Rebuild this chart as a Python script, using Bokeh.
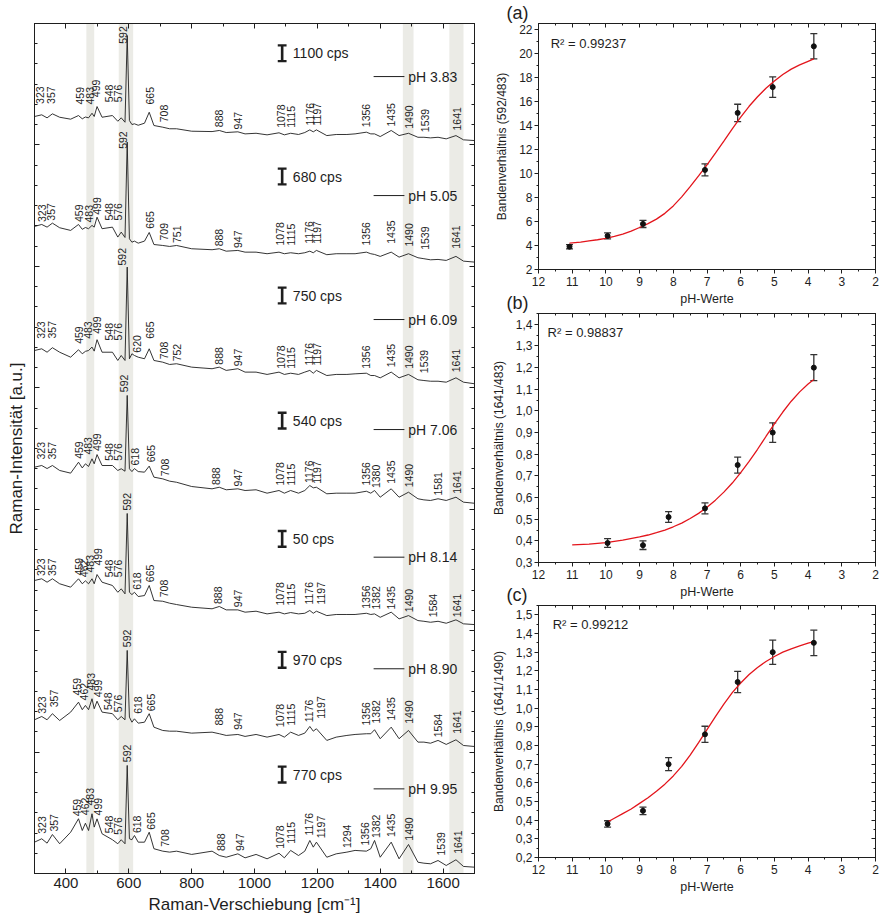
import numpy as np
from math import pi
from bokeh.plotting import figure
from bokeh.models import (Range1d, FixedTicker, LinearAxis, BoxAnnotation, Label,
                          Whisker, TeeHead, ColumnDataSource, CustomJSTickFormatter)
from bokeh.layouts import row, column
from bokeh.embed import file_html
from bokeh.resources import INLINE
from bokeh.core.properties import value

FONT = "Liberation Sans"
INK = "#1e1e1e"

# ---------------- Raman spectra (left panel) ----------------
WN = [300, 323, 340, 357, 380, 415, 440, 452, 462, 472, 483, 490, 499, 515, 548, 565, 576,
      588, 595, 602, 610, 618, 630, 650, 665, 680, 708, 730, 752, 800, 865, 888, 910, 947,
      970, 1005, 1040, 1078, 1095, 1115, 1140, 1160, 1176, 1187, 1197, 1230, 1260, 1294,
      1320, 1356, 1370, 1382, 1400, 1435, 1460, 1490, 1520, 1539, 1560, 1584, 1610, 1641,
      1665, 1700]

PH_NAMES = ["pH 3.83", "pH 5.05", "pH 6.09", "pH 7.06", "pH 8.14", "pH 8.90", "pH 9.95"]
CPS_NAMES = ["1100 cps", "680 cps", "750 cps", "540 cps", "50 cps", "970 cps", "770 cps"]

SPEC_383 = [23.4, 24.8, 22.3, 25.6, 22.8, 21.2, 24.2, 21.5, 23.0, 22.3,
            26.1, 23.4, 31.6, 22.8, 24.2, 19.5, 22.3, 18.7, 90.1, 20.1,
            16.8, 17.4, 16.2, 17.9, 26.9, 16.0, 14.6, 13.3, 13.3, 11.3,
            11.0, 11.9, 10.2, 10.8, 9.1, 9.6, 8.3, 10.0, 8.3, 9.6,
            8.6, 10.2, 12.4, 10.8, 12.4, 7.7, 8.6, 8.6, 9.1, 10.5,
            9.1, 9.1, 6.9, 11.9, 7.7, 9.6, 6.3, 6.3, 5.8, 6.3,
            5.0, 7.7, 4.2, 3.6]
SPEC_505 = [32.9, 34.5, 32.3, 35.6, 31.8, 29.6, 34.5, 30.5, 32.0, 31.0,
            33.7, 32.3, 40.5, 31.0, 32.3, 24.1, 28.2, 23.8, 102.3, 22.7,
            19.9, 20.8, 19.1, 20.8, 27.9, 18.0, 17.2, 16.4, 17.2, 14.5,
            13.7, 14.5, 12.5, 13.1, 11.7, 11.7, 10.4, 11.7, 10.4, 11.2,
            10.4, 11.2, 12.5, 11.2, 13.1, 9.6, 10.4, 10.4, 10.4, 11.7,
            10.4, 9.8, 8.2, 11.7, 7.6, 10.4, 7.1, 6.3, 5.4, 5.7,
            4.9, 8.2, 4.3, 3.5]
SPEC_609 = [30.7, 32.1, 29.3, 33.0, 29.3, 25.2, 31.3, 28.0, 30.0, 30.7,
            33.5, 30.2, 39.6, 29.3, 29.3, 22.5, 26.6, 22.5, 99.4, 23.9,
            28.0, 26.6, 25.2, 23.9, 32.1, 22.5, 21.1, 19.2, 19.8, 17.0,
            15.7, 17.0, 14.3, 15.7, 12.9, 12.9, 11.0, 12.9, 11.0, 12.0,
            11.0, 12.9, 14.3, 12.0, 14.3, 10.1, 11.0, 11.0, 11.5, 12.0,
            10.1, 10.1, 8.2, 12.9, 8.2, 11.0, 6.6, 6.0, 5.4, 5.4,
            4.6, 8.2, 4.6, 3.3]
SPEC_706 = [34.6, 36.0, 33.5, 36.0, 31.9, 29.7, 38.7, 34.0, 37.4, 35.2,
            41.5, 37.4, 45.0, 36.0, 36.0, 31.9, 33.3, 31.3, 93.7, 33.3,
            31.0, 33.5, 31.0, 30.5, 35.5, 26.4, 25.0, 23.1, 22.2, 18.7,
            16.8, 18.1, 16.0, 16.8, 15.4, 16.0, 13.2, 15.4, 13.2, 15.4,
            13.2, 15.4, 19.5, 17.6, 18.1, 12.7, 13.2, 13.2, 13.2, 14.8,
            13.2, 15.4, 9.9, 16.8, 9.9, 14.0, 8.6, 7.7, 7.2, 8.6,
            7.2, 9.9, 5.8, 4.9]
SPEC_814 = [41.3, 42.7, 39.9, 42.7, 38.6, 35.8, 42.7, 38.6, 41.0, 38.6,
            42.7, 38.6, 46.2, 39.9, 37.2, 31.6, 34.4, 30.3, 96.5, 31.6,
            29.7, 31.6, 28.1, 28.9, 37.2, 24.8, 24.2, 22.6, 21.5, 19.3,
            18.0, 19.9, 17.1, 17.1, 15.2, 16.0, 13.8, 15.2, 13.8, 14.9,
            13.8, 14.3, 16.6, 14.3, 16.0, 12.4, 13.3, 13.3, 13.3, 14.3,
            13.3, 13.8, 11.0, 15.2, 9.7, 12.4, 8.3, 7.7, 6.9, 7.7,
            6.1, 8.9, 5.6, 5.0]
SPEC_890 = [26.6, 29.3, 26.6, 31.6, 26.0, 32.9, 41.1, 34.9, 38.4, 34.9,
            43.9, 35.7, 41.9, 32.9, 31.6, 26.6, 29.3, 26.6, 83.7, 28.8,
            24.6, 27.4, 23.8, 24.6, 31.6, 20.5, 17.8, 17.2, 17.2, 15.6,
            16.4, 15.1, 13.7, 14.5, 12.9, 14.5, 12.3, 14.5, 12.3, 16.4,
            13.7, 15.6, 21.1, 17.2, 19.2, 9.6, 12.3, 13.7, 14.5, 15.1,
            15.1, 18.4, 11.0, 20.5, 11.0, 17.8, 8.2, 8.2, 7.3, 9.6,
            6.3, 10.1, 5.4, 4.6]
SPEC_995 = [25.8, 28.6, 25.0, 32.1, 24.5, 34.0, 45.1, 35.4, 41.4, 35.4,
            49.2, 38.2, 45.0, 32.7, 27.8, 24.5, 27.8, 24.5, 89.0, 28.6,
            27.8, 31.3, 25.8, 25.8, 34.0, 20.4, 18.4, 17.6, 18.4, 15.7,
            18.4, 14.8, 13.4, 16.2, 12.9, 15.7, 12.1, 16.7, 12.9, 19.0,
            14.8, 18.4, 27.2, 21.7, 25.8, 13.4, 16.2, 17.6, 19.0, 18.4,
            20.4, 27.2, 13.4, 25.8, 12.1, 23.9, 9.3, 8.5, 8.0, 10.7,
            6.6, 11.3, 5.8, 5.2]
SPECTRA = [SPEC_383, SPEC_505, SPEC_609, SPEC_706, SPEC_814, SPEC_890, SPEC_995]

# peak labels: (text, wavenumber position, height)
PK_383 = [("323", 317, 633.8), ("357", 353, 633.8), ("459", 444, 633.3), ("483", 478, 633.3),
          ("499", 497, 639.3), ("548", 536, 635.2), ("576", 565, 635.2), ("592", 582, 683.3),
          ("665", 669, 633.3), ("708", 711, 618.7), ("888", 886, 614.6), ("947", 947, 611.9),
          ("1078", 1083, 614.1), ("1115", 1117, 614.1), ("1176", 1176, 616.0), ("1197", 1200, 616.0),
          ("1356", 1355, 614.6), ("1435", 1435, 615.2), ("1490", 1491, 613.3), ("1539", 1541, 610.5),
          ("1641", 1643, 611.9)]
PK_505 = [("323", 324, 536.3), ("357", 353, 536.1), ("459", 443, 533.6), ("483", 473, 536.1),
          ("499", 499, 540.5), ("548", 536, 537.7), ("576", 565, 537.7), ("592", 582, 596.8),
          ("665", 669, 531.0), ("709", 711, 521.3), ("751", 754, 513.0), ("888", 886, 514.4),
          ("947", 947, 513.0), ("1078", 1082, 517.2), ("1115", 1117, 517.2), ("1176", 1173, 518.6),
          ("1197", 1198, 518.6), ("1356", 1355, 517.2), ("1435", 1433, 518.6), ("1490", 1490, 516.3),
          ("1539", 1541, 513.6), ("1641", 1640, 514.4)]
PK_609 = [("323", 321, 440.3), ("357", 356, 440.6), ("459", 443, 436.2), ("483", 470, 440.3),
          ("499", 499, 444.4), ("548", 536, 438.9), ("576", 565, 438.9), ("592", 579, 500.7),
          ("620", 627, 426.6), ("665", 667, 440.3), ("708", 711, 422.5), ("752", 754, 419.7),
          ("888", 886, 414.2), ("947", 947, 412.8), ("1078", 1083, 415.6), ("1115", 1117, 415.6),
          ("1176", 1173, 418.3), ("1197", 1198, 418.3), ("1356", 1355, 415.6), ("1435", 1434, 416.9),
          ("1490", 1490, 415.6), ("1539", 1539, 412.0), ("1641", 1640, 412.8)]
PK_706 = [("323", 321, 340.9), ("357", 356, 340.9), ("459", 443, 341.5), ("483", 470, 345.0),
          ("499", 499, 348.0), ("548", 536, 340.0), ("576", 565, 340.0), ("592", 584, 396.4),
          ("618", 621, 336.0), ("665", 671, 338.6), ("708", 714, 325.0), ("888", 876, 319.5),
          ("947", 947, 318.1), ("1078", 1082, 319.5), ("1115", 1117, 319.5), ("1176", 1173, 320.9),
          ("1197", 1200, 320.9), ("1356", 1355, 319.5), ("1380", 1388, 316.8), ("1435", 1434, 320.9),
          ("1490", 1490, 318.1), ("1581", 1584, 311.3), ("1641", 1643, 312.7)]
PK_814 = [("323", 321, 245.0), ("357", 356, 245.0), ("459", 441, 245.4), ("462", 457, 244.0),
          ("483", 476, 247.9), ("499", 501, 253.6), ("548", 536, 244.0), ("576", 565, 244.0),
          ("592", 593, 298.9), ("618", 625, 233.1), ("665", 669, 239.9), ("708", 711, 227.5),
          ("888", 884, 219.3), ("947", 947, 219.3), ("1078", 1082, 220.7), ("1115", 1117, 220.7),
          ("1176", 1173, 221.5), ("1197", 1210, 221.5), ("1356", 1355, 218.0), ("1382", 1385, 217.4),
          ("1435", 1435, 217.4), ("1490", 1490, 215.2), ("1584", 1568, 211.1), ("1641", 1643, 211.1)]
PK_890 = [("323", 324, 131.5), ("357", 361, 136.9), ("459", 434, 146.6), ("462", 458, 142.5),
          ("483", 480, 150.7), ("499", 501, 145.2), ("548", 533, 131.5), ("576", 565, 132.8),
          ("592", 595, 186.4), ("618", 629, 131.5), ("665", 671, 132.8), ("888", 886, 121.9),
          ("947", 948, 118.3), ("1078", 1082, 120.5), ("1115", 1117, 121.9), ("1176", 1173, 124.6),
          ("1197", 1212, 127.4), ("1356", 1355, 121.9), ("1382", 1385, 123.5), ("1435", 1435, 126.0),
          ("1490", 1490, 123.3), ("1584", 1584, 112.2), ("1641", 1643, 115.0)]
PK_995 = [("323", 324, 32.7), ("357", 361, 34.5), ("459", 436, 46.5), ("462", 462, 48.0),
          ("483", 478, 56.0), ("499", 501, 47.8), ("548", 536, 32.0), ("576", 566, 32.0),
          ("592", 593, 91.7), ("618", 626, 33.0), ("665", 671, 36.0), ("708", 714, 22.0),
          ("888", 892, 18.5), ("947", 953, 18.5), ("1078", 1082, 20.3), ("1115", 1117, 24.5),
          ("1176", 1173, 31.3), ("1197", 1212, 29.0), ("1294", 1295, 21.0), ("1356", 1353, 23.0),
          ("1382", 1385, 29.0), ("1435", 1435, 30.0), ("1490", 1490, 27.0), ("1539", 1592, 14.8),
          ("1641", 1646, 16.2)]
PEAKS = [PK_383, PK_505, PK_609, PK_706, PK_814, PK_890, PK_995]

BANDS = [(465, 490), (568, 614), (1472, 1506), (1620, 1665)]

# layout positions of the per-spectrum annotations
CPS_Y = [675.5, 574.0, 476.0, 373.0, 275.6, 176.0, 81.5]
PHL_Y = [656.3, 558.3, 456.2, 365.6, 260.5, 168.6, 69.7]

# ---------------- band ratio panels (right) ----------------
PH_A = [11.08, 9.95, 8.90, 7.06, 6.09, 5.05, 3.83]
RAT_A = [3.9, 4.8, 5.8, 10.3, 15.05, 17.2, 20.6]
ERR_A = [0.18, 0.25, 0.3, 0.5, 0.72, 0.85, 1.05]
FIT_PH_A = [11.08, 10.75, 10.5, 10.25, 10.0, 9.75, 9.5, 9.25, 9.0, 8.75, 8.5, 8.25, 8.0, 7.75,
            7.5, 7.25, 7.0, 6.75, 6.5, 6.25, 6.0, 5.75, 5.5, 5.25, 5.0, 4.75, 4.5, 4.25, 4.0, 3.83]
FIT_A = [4.2, 4.28, 4.38, 4.48, 4.6, 4.76, 4.95, 5.2, 5.5, 5.82, 6.2, 6.68, 7.3, 8.05,
         8.9, 9.8, 10.72, 11.7, 12.7, 13.72, 14.7, 15.6, 16.4, 17.1, 17.7, 18.25, 18.7,
         19.05, 19.35, 19.55]

PH_BC = [9.95, 8.90, 8.14, 7.06, 6.09, 5.05, 3.83]
RAT_B = [0.39, 0.38, 0.51, 0.55, 0.75, 0.90, 1.20]
ERR_B = [0.02, 0.02, 0.025, 0.025, 0.037, 0.045, 0.06]
FIT_PH_B = [11.0, 10.5, 10.0, 9.5, 9.0, 8.75, 8.5, 8.25, 8.0, 7.75, 7.5, 7.25, 7.0, 6.75, 6.5,
            6.25, 6.0, 5.75, 5.5, 5.25, 5.0, 4.75, 4.5, 4.25, 4.0, 3.83]
FIT_B = [0.381, 0.385, 0.392, 0.403, 0.418, 0.427, 0.438, 0.45, 0.465, 0.482, 0.503, 0.527,
         0.555, 0.588, 0.625, 0.667, 0.715, 0.767, 0.823, 0.882, 0.94, 0.995, 1.045, 1.088,
         1.124, 1.145]

RAT_C = [0.38, 0.45, 0.70, 0.86, 1.14, 1.30, 1.35]
ERR_C = [0.017, 0.02, 0.035, 0.043, 0.057, 0.065, 0.068]
FIT_PH_C = [9.95, 9.75, 9.5, 9.25, 9.0, 8.75, 8.5, 8.25, 8.0, 7.75, 7.5, 7.25, 7.0, 6.75, 6.5,
            6.25, 6.0, 5.75, 5.5, 5.25, 5.0, 4.75, 4.5, 4.25, 4.0, 3.83]
FIT_C = [0.39, 0.41, 0.435, 0.46, 0.49, 0.52, 0.555, 0.593, 0.637, 0.688, 0.748, 0.815,
         0.885, 0.955, 1.022, 1.083, 1.135, 1.18, 1.218, 1.25, 1.277, 1.3, 1.318, 1.334,
         1.348, 1.357]

R2_TEXT = ["R\u00b2 = 0.99237", "R\u00b2 = 0.98837", "R\u00b2 = 0.99212"]
Y_TITLES = ["Bandenverh\u00e4ltnis (592/483)", "Bandenverh\u00e4ltnis (1641/483)",
            "Bandenverh\u00e4ltnis (1641/1490)"]
PANEL_TAGS = ["(a)", "(b)", "(c)"]


def style_axis(ax, t_in, t_out, m_in, m_out, lab_size, lab_font_size=None, hide=False):
    ax.axis_line_color = INK
    ax.major_tick_line_color = INK
    ax.minor_tick_line_color = INK
    ax.major_tick_in = t_in
    ax.major_tick_out = t_out
    ax.minor_tick_in = m_in
    ax.minor_tick_out = m_out
    ax.major_label_text_font = FONT
    ax.major_label_text_color = INK
    ax.axis_label_text_font = FONT
    ax.axis_label_text_font_style = "normal"
    ax.axis_label_text_color = INK
    if lab_font_size:
        ax.axis_label_text_font_size = lab_font_size
    if hide:
        ax.major_label_text_font_size = "0px"
        ax.major_label_text_color = None
        ax.major_label_text_alpha = 0
        ax.major_label_standoff = 0
    else:
        ax.major_label_text_font_size = lab_size


# ======== left figure ========
L = figure(width=484, height=918, x_range=Range1d(300, 1700), y_range=Range1d(0, 700),
           output_backend="svg", toolbar_location=None, min_border_left=34,
           min_border_right=10, min_border_top=23, min_border_bottom=45)
L.title.visible = False
L.grid.visible = False
L.outline_line_color = INK
L.background_fill_color = "white"

xt_L = FixedTicker(ticks=list(range(400, 1601, 200)), minor_ticks=list(range(300, 1701, 100)))
yt_L = FixedTicker(ticks=list(range(0, 701, 100)), minor_ticks=[k * 100 / 6 for k in range(43)])
L.xaxis.ticker = xt_L
L.yaxis.ticker = yt_L
style_axis(L.xaxis[0], 5, 0, 3, 0, "15px", "17px")
L.xaxis.major_label_standoff = 4
L.xaxis.axis_label = "Raman-Verschiebung [cm\u207b\u00b9]"
L.xaxis.axis_label_standoff = 4
style_axis(L.yaxis[0], 5, 0, 3, 0, "0px", "17px", hide=True)
L.yaxis.axis_label = "Raman-Intensit\u00e4t [a.u.]"
L.yaxis.axis_label_standoff = 9
top_L = LinearAxis(ticker=xt_L)
style_axis(top_L, 5, 0, 3, 0, "0px", hide=True)
L.add_layout(top_L, "above")
right_L = LinearAxis(ticker=yt_L)
style_axis(right_L, 5, 0, 3, 0, "0px", hide=True)
L.add_layout(right_L, "right")

for a, b in BANDS:
    L.add_layout(BoxAnnotation(left=a, right=b, fill_color="#ebebe6", fill_alpha=1.0,
                               line_alpha=0, level="underlay"))

wn = np.array(WN, dtype=float)
n = len(SPECTRA)
for i, (spec, peaks) in enumerate(zip(SPECTRA, PEAKS)):
    off = (n - 1 - i) * 100
    ys = off + np.array(spec, dtype=float)
    L.line(WN, list(ys), line_color=INK, line_width=0.9)
    tx, lx, ly = [], [], []
    for t, x, y in peaks:
        win = np.concatenate(([x - 11, x + 11], wn[(wn > x - 11) & (wn < x + 11)]))
        top = float(np.interp(win, wn, ys).max())
        tx.append(t)
        lx.append(x)
        ly.append(max(y, top + 2.0))
    L.text(x=lx, y=ly, text=tx, angle=pi / 2, text_align="left", text_baseline="middle",
           text_font=value(FONT), text_font_size="10.5px", text_color=INK)

# scale bars, cps texts, legend lines
L.segment(x0=[1088] * n, x1=[1088] * n, y0=[y - 6.5 for y in CPS_Y], y1=[y + 6.5 for y in CPS_Y],
          line_color=INK, line_width=2.6)
L.segment(x0=[1074] * n, x1=[1102] * n, y0=[y - 6.5 for y in CPS_Y], y1=[y - 6.5 for y in CPS_Y],
          line_color=INK, line_width=2.4)
L.segment(x0=[1074] * n, x1=[1102] * n, y0=[y + 6.5 for y in CPS_Y], y1=[y + 6.5 for y in CPS_Y],
          line_color=INK, line_width=2.4)
L.text(x=[1122] * n, y=CPS_Y, text=CPS_NAMES, text_align="left", text_baseline="middle",
       text_font=value(FONT), text_font_size="14px", text_color=INK)
L.segment(x0=[1379] * n, x1=[1477] * n, y0=PHL_Y, y1=PHL_Y, line_color=INK, line_width=1)
L.text(x=[1489] * n, y=PHL_Y, text=PH_NAMES, text_align="left", text_baseline="middle",
       text_font=value(FONT), text_font_size="14px", text_color=INK)


# ======== right panels ========
def ratio_panel(height, top, bottom, y0, y1, yticks, yminor, ylabel, ph, val, err,
                fph, fval, r2, r2x, r2y, comma, tag):
    p = figure(width=396, height=height, x_range=Range1d(12, 2), y_range=Range1d(y0, y1),
               output_backend="svg", toolbar_location=None, min_border_left=54,
               min_border_right=5, min_border_top=top, min_border_bottom=bottom)
    p.title.text = tag
    p.title.align = "left"
    p.title.offset = -32
    p.title.standoff = 1
    p.title.text_font = FONT
    p.title.text_font_size = "18px"
    p.title.text_font_style = "normal"
    p.title.text_color = INK
    p.border_fill_color = None
    p.grid.visible = False
    p.outline_line_color = INK
    xt = FixedTicker(ticks=list(range(2, 13)), minor_ticks=[2 + 0.5 * k for k in range(21)])
    yt = FixedTicker(ticks=yticks, minor_ticks=yminor)
    p.xaxis.ticker = xt
    p.yaxis.ticker = yt
    style_axis(p.xaxis[0], 0, 4, 0, 2, "12px", "12.5px")
    style_axis(p.yaxis[0], 0, 4, 0, 2, "12px", "12px")
    p.xaxis.major_label_standoff = 3
    p.yaxis.major_label_standoff = 2
    p.xaxis.axis_label = "pH-Werte"
    p.xaxis.axis_label_standoff = 3
    p.yaxis.axis_label = ylabel
    p.yaxis.axis_label_standoff = 7
    if comma:
        p.yaxis.formatter = CustomJSTickFormatter(code="return tick.toFixed(1).replace('.', ',');")
    ta = LinearAxis(ticker=xt)
    style_axis(ta, 4, 0, 2, 0, "0px", hide=True)
    p.add_layout(ta, "above")
    ra = LinearAxis(ticker=yt)
    style_axis(ra, 4, 0, 2, 0, "0px", hide=True)
    p.add_layout(ra, "right")

    p.line(fph, fval, line_color="#e3151c", line_width=1.3)
    src = ColumnDataSource(dict(x=ph, y=val,
                                lo=[v - e for v, e in zip(val, err)],
                                hi=[v + e for v, e in zip(val, err)]))
    p.add_layout(Whisker(source=src, base="x", lower="lo", upper="hi", dimension="height",
                         line_color="#333333", line_width=1.3,
                         lower_head=TeeHead(size=7, line_color="#333333", line_width=1.3),
                         upper_head=TeeHead(size=7, line_color="#333333", line_width=1.3)))
    p.scatter("x", "y", source=src, size=5, marker="circle", fill_color="#111111",
              line_color="#111111")
    p.add_layout(Label(x=r2x, y=r2y, text=r2, text_font=FONT, text_font_size="13px",
                       text_color=INK, text_align="left", text_baseline="middle"))
    return p


A = ratio_panel(310, 23, 41, 2, 22.5, list(range(2, 23, 2)), list(range(1, 24)), Y_TITLES[0],
                PH_A, RAT_A, ERR_A, FIT_PH_A, FIT_A, R2_TEXT[0], 11.64, 20.83, False,
                PANEL_TAGS[0])
B = ratio_panel(320, 30, 41, 0.3, 1.45, [round(0.3 + 0.1 * k, 2) for k in range(12)],
                [round(0.25 + 0.05 * k, 3) for k in range(26)], Y_TITLES[1],
                PH_BC, RAT_B, ERR_B, FIT_PH_B, FIT_B, R2_TEXT[1], 11.73, 1.364, True,
                PANEL_TAGS[1])
C = ratio_panel(326, 30, 44, 0.2, 1.55, [round(0.2 + 0.1 * k, 2) for k in range(14)],
                [round(0.15 + 0.05 * k, 3) for k in range(30)], Y_TITLES[2],
                PH_BC, RAT_C, ERR_C, FIT_PH_C, FIT_C, R2_TEXT[2], 11.58, 1.448, True,
                PANEL_TAGS[2])
B.margin = (-27, 0, 0, 0)
C.margin = (-28, 0, 0, 0)

layout = row(L, column(A, B, C))
open("out.html", "w").write(file_html(layout, INLINE))
